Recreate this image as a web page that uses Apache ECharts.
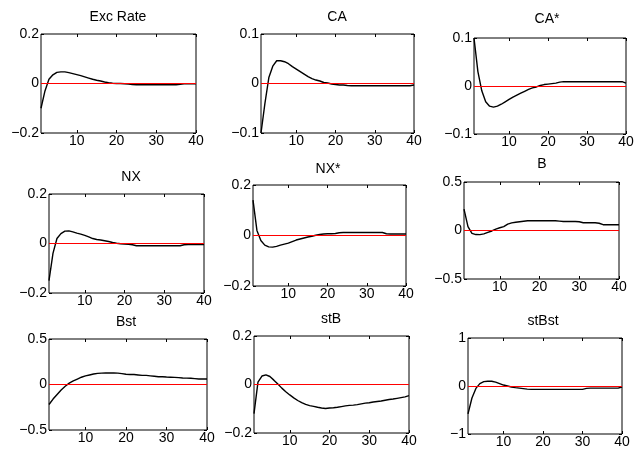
<!DOCTYPE html>
<html>
<head>
<meta charset="utf-8">
<script src="https://cdn.jsdelivr.net/npm/echarts@6/dist/echarts.min.js"></script>
<style>
html,body{margin:0;padding:0;background:#fff;}
#chart{width:637px;height:461px;}
</style>
</head>
<body>
<div id="chart"></div>
<script>
const periods = [1,2,3,4,5,6,7,8,9,10,11,12,13,14,15,16,17,18,19,20,21,22,23,24,25,26,27,28,29,30,31,32,33,34,35,36,37,38,39,40];
const xTickValues = [10,20,30,40];
const panelTitles = ["Exc Rate","CA","CA*","NX","NX*","B","Bst","stB","stBst"];

const excRate = [-0.1,-0.03,0.017,0.035,0.045,0.047,0.047,0.044,0.040,0.036,0.032,0.027,0.022,0.017,0.013,0.010,0.006,0.003,0.001,0,0,-0.001,-0.002,-0.004,-0.005,-0.005,-0.005,-0.005,-0.005,-0.005,-0.005,-0.005,-0.005,-0.005,-0.005,-0.003,-0.001,-0.001,-0.001,-0.001];
const ca = [-0.1,-0.04,0.012,0.035,0.046,0.046,0.044,0.040,0.034,0.029,0.024,0.019,0.014,0.010,0.007,0.005,0.002,0.001,-0.001,-0.002,-0.003,-0.003,-0.004,-0.0045,-0.0045,-0.0045,-0.0045,-0.0045,-0.0045,-0.0045,-0.0045,-0.0045,-0.0045,-0.0045,-0.0045,-0.0045,-0.0045,-0.0045,-0.0045,-0.003];
const caStar = [0.1,0.03,-0.01,-0.033,-0.042,-0.044,-0.042,-0.038,-0.033,-0.028,-0.023,-0.019,-0.015,-0.011,-0.007,-0.004,-0.002,0.001,0.003,0.004,0.005,0.006,0.008,0.009,0.009,0.009,0.009,0.009,0.009,0.009,0.009,0.009,0.009,0.009,0.009,0.009,0.009,0.009,0.009,0.006];
const nx = [-0.15,-0.04,0.02,0.04,0.05,0.051,0.047,0.042,0.038,0.033,0.027,0.020,0.016,0.014,0.011,0.008,0.004,0.001,-0.001,-0.002,-0.003,-0.005,-0.009,-0.009,-0.009,-0.009,-0.009,-0.009,-0.009,-0.009,-0.009,-0.009,-0.009,-0.009,-0.005,-0.004,-0.004,-0.004,-0.004,-0.004];
const nxStar = [0.14,0.02,-0.02,-0.038,-0.045,-0.046,-0.043,-0.038,-0.034,-0.030,-0.024,-0.018,-0.014,-0.010,-0.006,-0.003,0.001,0.004,0.006,0.007,0.007,0.008,0.011,0.012,0.012,0.012,0.012,0.012,0.012,0.012,0.012,0.012,0.012,0.012,0.007,0.006,0.006,0.006,0.006,0.006];
const bVals = [0.22,0.04,-0.03,-0.042,-0.043,-0.035,-0.02,-0.005,0.015,0.028,0.04,0.065,0.078,0.085,0.09,0.095,0.1,0.1,0.1,0.1,0.1,0.1,0.1,0.1,0.097,0.093,0.093,0.093,0.093,0.09,0.08,0.08,0.08,0.08,0.075,0.06,0.06,0.06,0.06,0.06];
const bst = [-0.22,-0.16,-0.11,-0.06,-0.02,0.015,0.04,0.06,0.08,0.095,0.105,0.115,0.122,0.125,0.127,0.127,0.127,0.125,0.12,0.112,0.11,0.11,0.105,0.1,0.1,0.095,0.09,0.085,0.085,0.082,0.08,0.078,0.075,0.072,0.07,0.068,0.065,0.06,0.06,0.06];
const stB = [-0.12,0.01,0.035,0.04,0.033,0.018,0.002,-0.015,-0.03,-0.043,-0.055,-0.066,-0.075,-0.082,-0.087,-0.09,-0.094,-0.097,-0.099,-0.097,-0.096,-0.094,-0.091,-0.088,-0.086,-0.085,-0.083,-0.08,-0.077,-0.075,-0.072,-0.07,-0.068,-0.065,-0.062,-0.06,-0.057,-0.054,-0.051,-0.046];
const stBst = [-0.58,-0.25,-0.05,0.05,0.09,0.1,0.1,0.08,0.05,0.02,0.0,-0.02,-0.035,-0.045,-0.055,-0.065,-0.07,-0.07,-0.07,-0.07,-0.07,-0.07,-0.07,-0.07,-0.07,-0.07,-0.07,-0.07,-0.07,-0.07,-0.05,-0.045,-0.045,-0.045,-0.045,-0.045,-0.045,-0.045,-0.045,-0.02];

const yLimits = [0.2,0.1,0.1,0.2,0.2,0.5,0.5,0.2,1];
const seriesValues = [excRate,ca,caStar,nx,nxStar,bVals,bst,stB,stBst];

// layout: [left, top, width, height], title center x, title top
const layouts = [
  [41,34,155,99, 118,10],
  [261,34,153,99, 337,10],
  [474,38,152,96, 547,12],
  [49,194,155,99, 131,170],
  [253,185,153,101, 328,162],
  [464,182,155,97, 542,157],
  [49,339,158,91, 126,315],
  [254,336,155,97, 331,312],
  [468,338,154,96, 543,314]
];

const font = 'Liberation Sans, Arial, Helvetica, sans-serif';
const fmt = v => String(+v.toFixed(4)).replace('-', '\u2212');

const grid=[], xAxis=[], yAxis=[], series=[], title=[];
layouts.forEach((L,i)=>{
  grid.push({left:L[0],top:L[1],width:L[2],height:L[3],show:true,borderColor:'#000',borderWidth:1,backgroundColor:'#fff',containLabel:false});
  title.push({text:panelTitles[i],left:L[4],top:L[5],textAlign:'center',padding:0,
    textStyle:{fontFamily:font,fontSize:14,fontWeight:'normal',color:'#000'}});
  const lim = yLimits[i];
  xAxis.push({type:'value',gridIndex:i,min:1,max:40,position:'bottom',
    axisLine:{show:false,onZero:false},splitLine:{show:false},
    axisTick:{show:true,inside:true,length:3,customValues:xTickValues,lineStyle:{color:'#000'}},
    axisLabel:{show:true,customValues:xTickValues,margin:1,color:'#000',fontFamily:font,fontSize:14}});
  xAxis.push({type:'value',gridIndex:i,min:1,max:40,position:'top',
    axisLine:{show:false,onZero:false},splitLine:{show:false},
    axisTick:{show:true,inside:true,length:3,customValues:xTickValues,lineStyle:{color:'#000'}},
    axisLabel:{show:false}});
  yAxis.push({type:'value',gridIndex:i,min:-lim,max:lim,interval:lim,position:'left',
    axisLine:{show:false,onZero:false},splitLine:{show:false},
    axisTick:{show:true,inside:true,length:3,lineStyle:{color:'#000'}},
    axisLabel:{show:true,margin:2,color:'#000',fontFamily:font,fontSize:14,formatter:fmt}});
  yAxis.push({type:'value',gridIndex:i,min:-lim,max:lim,interval:lim,position:'right',
    axisLine:{show:false,onZero:false},splitLine:{show:false},
    axisTick:{show:true,inside:true,length:3,lineStyle:{color:'#000'}},
    axisLabel:{show:false}});
  series.push({type:'line',xAxisIndex:2*i,yAxisIndex:2*i,
    data:periods.map((p,k)=>[p,seriesValues[i][k]]),
    showSymbol:false,symbol:'none',lineStyle:{color:'#000',width:1.4},animation:false,silent:true,
    markLine:{silent:true,symbol:'none',label:{show:false},animation:false,
      lineStyle:{color:'#ff0000',width:1,type:'solid'},data:[{yAxis:0}]}});
});

const chart = echarts.init(document.getElementById('chart'),null,{renderer:'canvas'});
chart.setOption({animation:false,backgroundColor:'#fff',title,grid,xAxis,yAxis,series});
</script>
</body>
</html>
